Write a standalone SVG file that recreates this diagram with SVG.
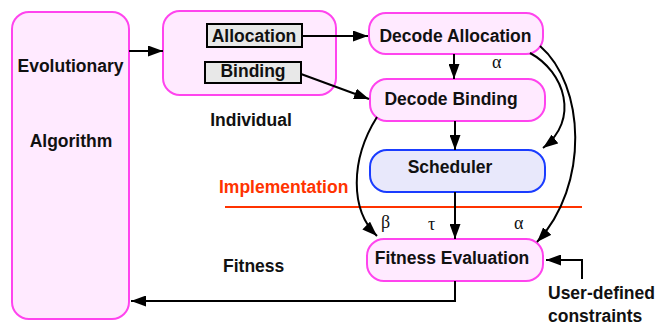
<svg xmlns="http://www.w3.org/2000/svg" width="668" height="329" viewBox="0 0 668 329">
<defs>
<style>
.pink{fill:#ffeaff;stroke:#ff44ee;stroke-width:2}
.blue{fill:#e8e8fb;stroke:#1a3cff;stroke-width:2}
.gray{fill:#e8e8e8;stroke:#000;stroke-width:2}
.t{font-family:"Liberation Sans",Arial,sans-serif;font-weight:bold;font-size:17.5px;fill:#111}
.c{text-anchor:middle}
.g{font-family:"Liberation Serif","Times New Roman",serif;font-size:18px;fill:#111}
.ln{fill:none;stroke:#000;stroke-width:2}
</style>
<marker id="ah" markerUnits="userSpaceOnUse" markerWidth="15" markerHeight="11" refX="15" refY="5.5" orient="auto">
<path d="M0,0 L15,5.5 L0,11 z" fill="#000"/>
</marker>
</defs>
<rect width="668" height="329" fill="#fff"/>
<g id="ea">
<rect class="pink" x="12" y="12" width="117" height="307" rx="17"/>
<text class="t c" x="70.5" y="72">Evolutionary</text>
<text class="t c" x="71" y="147">Algorithm</text>
</g>
<g id="individual">
<rect class="pink" x="163" y="11" width="173" height="84" rx="17"/>
<text class="t c" x="251" y="126">Individual</text>
</g>
<g id="allocation">
<rect class="gray" x="207" y="24" width="95" height="23"/>
<text class="t c" x="254" y="42">Allocation</text>
</g>
<g id="binding">
<rect class="gray" x="205" y="62" width="96" height="21"/>
<text class="t c" x="253" y="77">Binding</text>
</g>
<g id="decodeAllocation">
<rect class="pink" x="369" y="13" width="174" height="41" rx="17"/>
<text class="t c" x="455.5" y="42">Decode Allocation</text>
</g>
<g id="decodeBinding">
<rect class="pink" x="370" y="79" width="175" height="42" rx="17"/>
<text class="t c" x="451" y="105">Decode Binding</text>
</g>
<g id="scheduler">
<rect class="blue" x="370" y="150" width="175" height="42" rx="17"/>
<text class="t c" x="450" y="173">Scheduler</text>
</g>
<g id="fitnessEvaluation">
<rect class="pink" x="367" y="239" width="176" height="42" rx="17"/>
<text class="t c" x="452" y="264">Fitness Evaluation</text>
</g>
<g id="labels">
<text class="t" x="219" y="193" style="fill:#ff3300">Implementation</text>
<line x1="225" y1="207" x2="582" y2="207" stroke="#ff3300" stroke-width="2"/>
<text class="t" x="223" y="272">Fitness</text>
<text class="t" x="548" y="299">User-defined</text>
<text class="t" x="548" y="322">constraints</text>
<text class="g" x="492" y="68">α</text>
<text class="g" x="381" y="228">β</text>
<text class="g" x="428" y="230">τ</text>
<text class="g" x="514" y="229">α</text>
</g>
<g id="connectors">
<line class="ln" x1="129" y1="51" x2="163" y2="51" marker-end="url(#ah)"/>
<line class="ln" x1="302" y1="36" x2="368" y2="36" marker-end="url(#ah)"/>
<line class="ln" x1="301" y1="74" x2="369" y2="99" marker-end="url(#ah)"/>
<line class="ln" x1="454" y1="54" x2="454" y2="79" marker-end="url(#ah)"/>
<line class="ln" x1="455" y1="121" x2="455" y2="150" marker-end="url(#ah)"/>
<line class="ln" x1="455" y1="192" x2="455" y2="239" marker-end="url(#ah)"/>
<path class="ln" d="M530,53 C565,72 580,120 543,148" marker-end="url(#ah)"/>
<path class="ln" d="M540,46 C585,85 590,185 537,242" marker-end="url(#ah)"/>
<path class="ln" d="M377,117 C350,160 350,210 377,236" marker-end="url(#ah)"/>
<polyline class="ln" points="455,281 455,301 131,301" marker-end="url(#ah)"/>
<polyline class="ln" points="582,279 582,260 546,260" marker-end="url(#ah)"/>
</g>
</svg>
